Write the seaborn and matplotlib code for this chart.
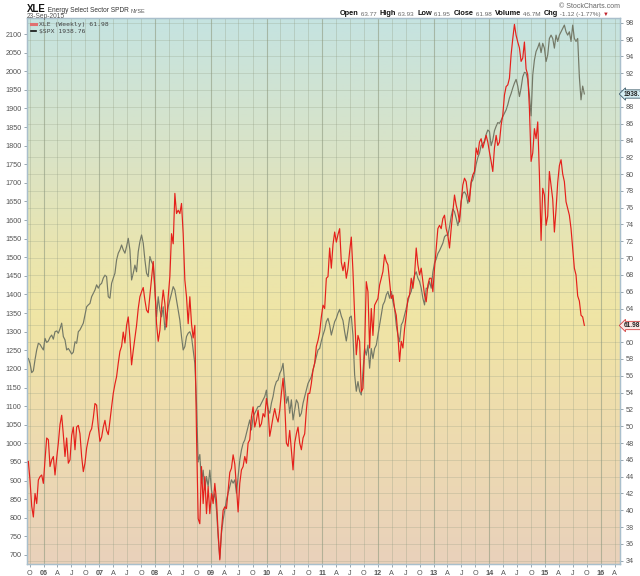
import numpy as np
import pandas as pd
import matplotlib
matplotlib.use("Agg")
import matplotlib.pyplot as plt
from matplotlib.colors import LinearSegmentedColormap
from matplotlib.transforms import blended_transform_factory
from matplotlib.lines import Line2D
import seaborn as sns

# ---------------- data ----------------
# XLE weekly (dividend adjusted), sampled roughly every 11 days, right axis
xle_values = [
    45.8, 43.5, 40.5, 39.2, 42.0, 40.8, 43.6, 44.0, 44.2, 43.2,
    46.0, 48.6, 48.4, 45.2, 46.0, 46.4, 44.2, 46.2, 48.0, 50.2,
    51.3, 49.0, 46.4, 48.6, 45.6, 46.0, 48.9, 49.9, 47.2, 49.9,
    50.1, 49.1, 46.4, 44.6, 45.6, 47.4, 48.4, 49.3, 49.7, 51.0,
    52.7, 52.5, 49.9, 48.2, 48.7, 49.9, 50.7, 49.5, 49.0, 50.7,
    52.3, 53.9, 55.0, 55.9, 57.5, 58.9, 59.5, 61.2, 59.9, 62.0,
    63.0, 60.5, 57.3, 59.0, 60.5, 62.0, 64.0, 65.4, 66.0, 66.5,
    65.0, 63.8, 63.5, 65.5, 67.4, 69.6, 66.6, 62.2, 60.1, 61.4,
    64.2, 66.2, 64.6, 61.8, 65.4, 67.8, 72.9, 71.7, 77.7, 75.3,
    75.7, 75.3, 76.5, 72.9, 67.4, 65.4, 62.2, 65.4, 62.2, 60.5,
    62.0, 49.1, 39.0, 38.4, 45.2, 40.8, 44.0, 39.6, 42.8, 39.6,
    42.0, 40.8, 43.2, 41.2, 37.3, 34.1, 37.6, 40.0, 40.4, 40.2,
    42.4, 44.5, 45.0, 46.6, 45.5, 42.8, 39.8, 43.2, 44.8, 45.2,
    46.4, 45.6, 48.0, 48.4, 51.1, 52.3, 49.9, 50.7, 51.9, 49.9,
    50.3, 51.5, 51.1, 53.3, 51.9, 48.8, 49.9, 51.1, 52.1, 51.1,
    50.5, 51.9, 53.9, 55.7, 52.7, 48.0, 47.6, 49.5, 47.2, 44.8,
    48.0, 49.1, 49.9, 48.0, 47.2, 48.6, 49.1, 51.9, 53.9, 53.9,
    55.1, 56.7, 57.5, 59.5, 60.2, 61.2,
    63.0, 64.4, 64.0, 67.6, 67.8, 71.2, 68.8, 71.6, 73.1, 71.9,
    72.8, 73.5, 69.5, 68.5, 69.5, 67.6, 68.8, 70.8, 72.5, 68.4,
    63.2, 58.5, 60.8, 60.1, 54.1, 54.5, 59.3, 67.2, 66.0, 59.3,
    64.0, 60.8, 64.4, 64.8, 65.2, 66.8, 67.6, 68.4, 70.4, 69.6,
    69.2, 67.2, 65.2, 65.6, 64.0, 63.2, 60.8, 57.7, 60.1, 59.3,
    61.6, 63.2, 65.2, 65.6, 67.6, 66.4, 68.0, 71.2, 69.2, 68.0,
    68.8, 67.2, 65.6, 64.8, 66.8, 67.6, 67.6, 66.0, 68.8, 71.2,
    73.5, 73.9, 73.5, 74.7, 75.1, 73.5, 72.7, 71.2, 73.5, 75.5,
    77.5, 76.3, 75.5, 74.3, 76.7, 78.7, 79.5, 79.1, 77.5, 76.7,
    79.1, 79.9, 80.3, 83.1, 82.3, 83.8, 84.2, 83.1, 83.8, 84.6,
    83.8, 82.6, 81.5, 80.3, 83.1, 84.6, 83.4, 83.8, 85.8, 87.0,
    89.4, 90.4, 90.6, 91.4, 94.2, 96.1, 97.8, 96.5, 95.7, 95.0,
    93.4, 93.8, 95.7, 92.5, 91.8, 87.8, 81.5, 82.5, 85.4, 84.2,
    86.2, 80.0, 72.1, 78.3, 77.5, 73.9, 75.0, 80.3, 78.7, 77.0,
    73.1, 75.8, 79.0, 81.0, 81.7, 80.0, 79.1, 76.7, 75.9, 75.1,
    73.5, 71.2, 68.8, 68.0, 65.5, 64.9, 63.2, 63.0, 62.0,
]

# S&P 500 ($SPX), same sampling, left axis
spx_values = [
    1228, 1215, 1190, 1195, 1225, 1251, 1269, 1266, 1258, 1251,
    1282, 1271, 1275, 1285, 1291, 1280, 1300, 1302, 1296, 1308,
    1323, 1287, 1278, 1251, 1255, 1248, 1240, 1245, 1273, 1269,
    1300, 1305, 1314, 1323, 1345, 1367, 1372, 1376, 1394, 1403,
    1412, 1426, 1417, 1426, 1430, 1444, 1452, 1448, 1394, 1390,
    1430, 1444, 1457, 1493, 1511, 1520, 1533, 1520, 1511, 1529,
    1551, 1520, 1439, 1457, 1479, 1461, 1515, 1542, 1560, 1538,
    1493, 1457, 1448, 1502, 1488, 1479, 1412, 1340, 1394, 1358,
    1340, 1367, 1305, 1331, 1367, 1385, 1403, 1421, 1412, 1385,
    1358, 1331, 1287, 1251, 1260, 1287, 1296, 1300, 1287, 1251,
    1215, 1108, 950, 970, 893, 928, 875, 911, 884, 928,
    875, 848, 866, 821, 749, 691, 758, 794, 821, 848,
    866, 884, 902, 893, 902, 866, 911, 955, 982, 1000,
    1009, 1027, 1045, 1063, 1036, 1072, 1081, 1090, 1099, 1099,
    1108, 1117, 1126, 1143, 1090, 1081, 1108, 1126, 1152, 1166,
    1170, 1188, 1197, 1215, 1161, 1108, 1126, 1081, 1117, 1063,
    1090, 1117, 1108, 1072, 1081, 1108, 1126, 1143, 1161, 1170,
    1179, 1197, 1215, 1233, 1251, 1255,
    1275, 1291, 1305, 1327, 1336, 1318, 1291, 1309, 1327, 1336,
    1350, 1360, 1342, 1330, 1300, 1275, 1305, 1338, 1342, 1290,
    1184, 1140, 1166, 1140, 1130, 1193, 1255, 1237, 1264, 1202,
    1255, 1228, 1255, 1264, 1291, 1318, 1345, 1372, 1381, 1399,
    1408, 1390, 1408, 1381, 1363, 1318, 1291, 1273, 1318, 1327,
    1345, 1363, 1381, 1399, 1408, 1435, 1452, 1461, 1444, 1435,
    1417, 1390, 1372, 1417, 1417, 1435, 1417, 1460, 1485, 1495,
    1510, 1518, 1528, 1538, 1555, 1560, 1558, 1582, 1610, 1630,
    1622, 1605, 1585, 1605, 1650, 1672, 1676, 1668, 1645, 1665,
    1700, 1708, 1725, 1750, 1768, 1780, 1800, 1805, 1812, 1830,
    1842, 1838, 1800, 1815, 1840, 1852, 1862, 1860, 1868, 1878,
    1887, 1896, 1910, 1928, 1940, 1955, 1968, 1978, 1960, 1932,
    1955, 1985, 1997, 1995, 1978, 1936, 1880, 1990, 2030, 2053,
    2063, 2076, 2050, 2075, 2062, 2026, 2044, 2088, 2097, 2088,
    2062, 2097, 2080, 2097, 2106, 2115, 2124, 2106, 2097, 2106,
    2080, 2124, 2088, 2080, 2088, 1985, 1923, 1960, 1939,
]

sample_start = "2005-09-22"
sample_step = "262h"

left_ticks = list(range(700, 2101, 50))
right_ticks = list(range(34, 99, 2))
right_hidden = [62, 90]          # right-axis labels covered by the last-value flags
quarter_names = {1: None, 4: "A", 7: "J", 10: "O"}

xle_last = "61.98"
spx_last = 1938.76

ohlc_parts = [("Open", " 63.77  "), ("High", " 63.93  "), ("Low", " 61.95  "),
              ("Close", " 61.98  "), ("Volume", " 46.7M  "), ("Chg", " -1.12 (-1.77%) ")]

# ---------------- figure ----------------
plt.rcParams["font.family"] = ["Liberation Sans", "DejaVu Sans"]

W, H = 640, 576
fig = plt.figure(figsize=(W / 100, H / 100), dpi=100)
fig.patch.set_facecolor("white")
ax = fig.add_axes([27 / W, 1 - 564 / H, (620 - 27) / W, (564 - 18) / H])
ax2 = ax.twinx()

xle_dates = pd.date_range(sample_start, periods=len(xle_values), freq=sample_step)
spx_dates = pd.date_range(sample_start, periods=len(spx_values), freq=sample_step)

gray_col = "#737866"
red_col = "#e5201b"
sns.lineplot(x=spx_dates, y=spx_values, ax=ax, color=gray_col, linewidth=0.85, zorder=3)
sns.lineplot(x=xle_dates, y=xle_values, ax=ax2, color=red_col, linewidth=0.85, zorder=3)

# background gradient
grad = LinearSegmentedColormap.from_list(
    "bg", [(0.0, "#e9d1bb"), (0.26, "#eedcae"), (0.45, "#f0e5a5"),
           (0.58, "#e9e5b0"), (0.76, "#d9e3c7"), (1.0, "#c5e3e1")])
ax.imshow(np.linspace(0, 1, 256).reshape(-1, 1), extent=[0, 1, 0, 1],
          transform=ax.transAxes, aspect="auto", cmap=grad, origin="lower", zorder=0)

ax.set_xlim(pd.Timestamp("2005-09-13"), pd.Timestamp("2016-05-07"))
ax.set_ylim(675.8, 2143)
ax2.set_ylim(33.61, 98.56)

# ticks
qticks = pd.date_range("2005-10-01", "2016-04-01", freq="QS-JAN")
qlabels = [f"{d.year % 100:02d}" if d.month == 1 else quarter_names[d.month] for d in qticks]
ax.set_xticks(qticks)
ax.set_xticklabels(qlabels)
for lbl, d in zip(ax.get_xticklabels(), qticks):
    if d.month == 1:
        lbl.set_fontweight("bold")
        lbl.set_color("#222222")

ax.set_yticks(left_ticks)
ax.set_yticklabels([str(v) for v in left_ticks])
ax2.set_yticks(right_ticks)
ax2.set_yticklabels(["" if v in right_hidden else str(v) for v in right_ticks])

for a in (ax, ax2):
    a.tick_params(axis="both", labelsize=5.2, labelcolor="#555555", color="#8a9aa5",
                  length=2.5, width=0.6, pad=1.5)
    a.set_xlabel("")
    a.set_ylabel("")
    for s in a.spines.values():
        s.set_color("#a9bfcc")
        s.set_linewidth(0.9)

# grid
ax.set_axisbelow(True)
ax.grid(axis="x", color="#8f9a80", linewidth=0.6, alpha=0.35)
ax.grid(axis="y", visible=False)
for gl, d in zip(ax.xaxis.get_gridlines(), qticks):
    if d.month == 1:
        gl.set_alpha(0.6)
        gl.set_linewidth(0.8)
ax2.set_axisbelow(True)
ax2.grid(axis="y", color="#8f9a80", linewidth=0.6, alpha=0.3)

# legend
handles = [Line2D([], [], color="#e07070", lw=2.2), Line2D([], [], color="#111111", lw=1.2)]
leg = ax2.legend(handles, [f"XLE (Weekly) {xle_last}", f"$SPX {spx_last:.2f}"],
                 loc="upper left", frameon=False, handlelength=0.9, handletextpad=0.5,
                 labelspacing=0.3, borderpad=0.45, borderaxespad=0.1,
                 prop={"family": "DejaVu Sans Mono", "size": 4.6})
for t in leg.get_texts():
    t.set_color("#444444")

# last value flags on the right
trans_x = blended_transform_factory(ax2.transAxes, ax2.transData)
ax2.annotate(xle_last, xy=(1, float(xle_last)), xycoords=trans_x, xytext=(2.6, 0),
             textcoords="offset points", ha="left", va="center", fontsize=4.7,
             color="#222222", fontweight="bold", annotation_clip=False, zorder=6,
             bbox=dict(boxstyle="larrow,pad=0.1", fc="#fbe6e4", ec="#d34040", lw=0.6))
trans_s = blended_transform_factory(ax2.transAxes, ax.transData)
ax2.annotate(f"{spx_last:.2f}", xy=(1, spx_last), xycoords=trans_s, xytext=(2.6, 0),
             textcoords="offset points", ha="left", va="center", fontsize=4.7,
             color="#222222", fontweight="bold", annotation_clip=False, zorder=6,
             bbox=dict(boxstyle="larrow,pad=0.1", fc="#d6eef4", ec="#3e5d6b", lw=0.6))

# header texts
def fy(y):
    return 1 - y / H

t = fig.text(27 / W, fy(12), "XLE", fontsize=7.0, fontweight="bold", va="baseline", color="#111111")
t2 = ax.annotate(" Energy Select Sector SPDR ", xy=(1, 0), xycoords=t, va="bottom", ha="left",
                 fontsize=4.7, color="#333333", annotation_clip=False)
ax.annotate("NYSE", xy=(1, 0), xycoords=t2, va="bottom", ha="left",
            fontsize=3.9, color="#555555", annotation_clip=False)
fig.text(27 / W, fy(18), "23-Sep-2015", fontsize=4.8, color="#555555", va="baseline")
fig.text(620 / W, fy(8.5), "\u00a9 StockCharts.com", fontsize=5.0, color="#666666",
         ha="right", va="baseline")

prev = fig.text(340 / W, fy(17), "", fontsize=5.3, va="baseline")
for lab, val in ohlc_parts:
    prev = ax.annotate(lab, xy=(1, 0), xycoords=prev, va="bottom", ha="left", fontsize=5.3,
                       fontweight="bold", color="#111111", annotation_clip=False)
    prev = ax.annotate(val, xy=(1, 0), xycoords=prev, va="bottom", ha="left", fontsize=4.6,
                       color="#666666", annotation_clip=False)
ax.annotate("\u25bc", xy=(1, 0), xycoords=prev, va="bottom", ha="left", fontsize=4.2,
            color="#c0202a", annotation_clip=False)

fig.savefig("out.png", dpi=100, facecolor="white")
